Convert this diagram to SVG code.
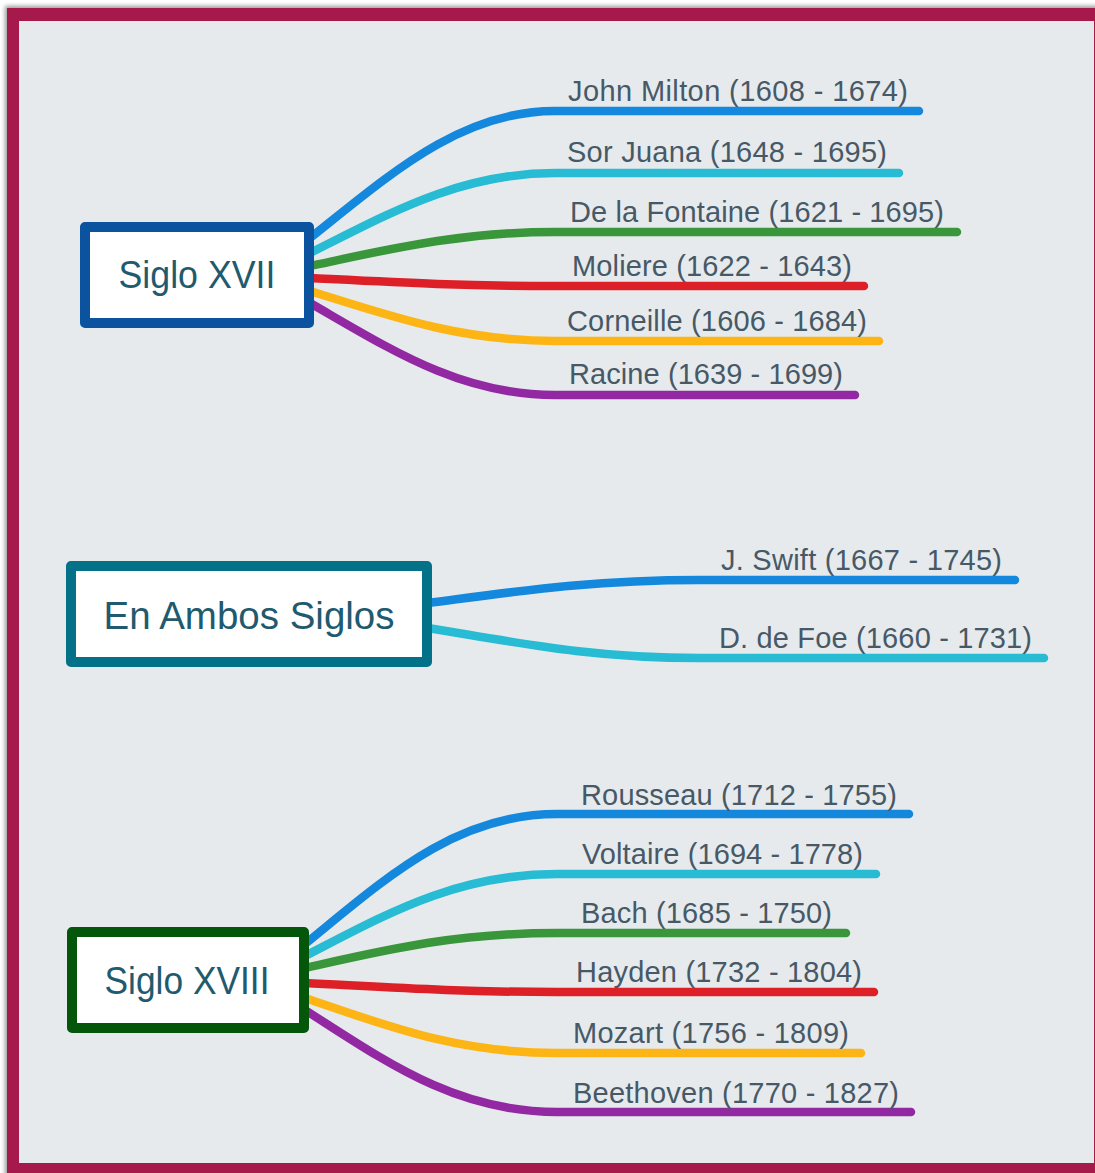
<svg xmlns="http://www.w3.org/2000/svg" width="1095" height="1173" viewBox="0 0 1095 1173">
<defs>
<filter id="sh" x="-5%" y="-5%" width="110%" height="110%"><feGaussianBlur stdDeviation="2"/></filter>
<style>
.ln{fill:none;stroke-width:8.5;stroke-linecap:round;stroke-linejoin:round}
.b{stroke:#1488DD}.c{stroke:#27BCD3}.g{stroke:#3A963A}.r{stroke:#DD2028}.y{stroke:#FDB515}.p{stroke:#9229A3}
.lbl{font-family:"Liberation Sans",Arial,sans-serif;font-size:29px;fill:#475966}
.box{fill:#FFFFFF;stroke-width:10;stroke-linejoin:round}
.nt{font-family:"Liberation Sans",Arial,sans-serif;font-size:38px;fill:#1F5A6E;text-anchor:middle}
</style>
</defs>
<rect x="5" y="6" width="1110" height="1180" fill="#999" filter="url(#sh)"/>
<rect x="7" y="8" width="1110" height="1180" fill="#A51A4B"/>
<rect x="19" y="21" width="1075" height="1142" fill="#E6EAED"/>
<g id="connectors">
<path class="ln b" d="M310 238 C390 174.5 460 111 555 111 L919 111"/>
<path class="ln c" d="M310 253 C390 213 460 173 555 173 L899 173"/>
<path class="ln g" d="M310 266 C390 249 460 232 555 232 L957 232"/>
<path class="ln r" d="M310 278 C390 282 460 286 555 286 L864 286"/>
<path class="ln y" d="M310 291 C390 316 460 341 555 341 L879 341"/>
<path class="ln p" d="M310 303 C390 349 460 395 555 395 L855 395"/>
<path class="ln b" d="M428 603 C520 591 590 580 700 580 L1015 580"/>
<path class="ln c" d="M428 628 C520 643 590 658 700 658 L1044 658"/>
<path class="ln b" d="M305 944 C385 879 455 814 557 814 L909 814"/>
<path class="ln c" d="M305 956 C385 915 455 874 557 874 L876 874"/>
<path class="ln g" d="M305 968 C385 950 455 933 557 933 L846 933"/>
<path class="ln r" d="M305 983 C385 987 455 992 557 992 L874 992"/>
<path class="ln y" d="M305 998 C385 1025 455 1053 557 1053 L861 1053"/>
<path class="ln p" d="M305 1010 C385 1061 455 1112 557 1112 L911 1112"/>
</g>
<g id="siglo-xvii">
<rect class="box" x="85" y="227" width="224" height="96" stroke="#0B529F"/>
<text class="nt" x="197" y="288" textLength="157" lengthAdjust="spacingAndGlyphs">Siglo XVII</text>
</g>
<g id="en-ambos-siglos">
<rect class="box" x="71" y="566" width="356" height="96" stroke="#037188"/>
<text class="nt" x="249" y="629" textLength="291" lengthAdjust="spacingAndGlyphs">En Ambos Siglos</text>
</g>
<g id="siglo-xviii">
<rect class="box" x="72" y="932" width="232" height="96" stroke="#03560A"/>
<text class="nt" x="187" y="994" textLength="165" lengthAdjust="spacingAndGlyphs">Siglo XVIII</text>
</g>
<g id="labels-xvii">
<text class="lbl" x="568" y="101" textLength="340" lengthAdjust="spacing">John Milton (1608 - 1674)</text>
<text class="lbl" x="567" y="162" textLength="320" lengthAdjust="spacing">Sor Juana (1648 - 1695)</text>
<text class="lbl" x="570" y="222" textLength="374" lengthAdjust="spacing">De la Fontaine (1621 - 1695)</text>
<text class="lbl" x="572" y="276" textLength="280" lengthAdjust="spacing">Moliere (1622 - 1643)</text>
<text class="lbl" x="567" y="331" textLength="300" lengthAdjust="spacing">Corneille (1606 - 1684)</text>
<text class="lbl" x="569" y="384" textLength="274" lengthAdjust="spacing">Racine (1639 - 1699)</text>
</g>
<g id="labels-ambos">
<text class="lbl" x="721" y="570" textLength="281" lengthAdjust="spacing">J. Swift (1667 - 1745)</text>
<text class="lbl" x="719" y="648" textLength="313" lengthAdjust="spacing">D. de Foe (1660 - 1731)</text>
</g>
<g id="labels-xviii">
<text class="lbl" x="581" y="805" textLength="316" lengthAdjust="spacing">Rousseau (1712 - 1755)</text>
<text class="lbl" x="582" y="864" textLength="281" lengthAdjust="spacing">Voltaire (1694 - 1778)</text>
<text class="lbl" x="581" y="923" textLength="251" lengthAdjust="spacing">Bach (1685 - 1750)</text>
<text class="lbl" x="576" y="982" textLength="286" lengthAdjust="spacing">Hayden (1732 - 1804)</text>
<text class="lbl" x="573" y="1043" textLength="276" lengthAdjust="spacing">Mozart (1756 - 1809)</text>
<text class="lbl" x="573" y="1103" textLength="326" lengthAdjust="spacing">Beethoven (1770 - 1827)</text>
</g>
</svg>
